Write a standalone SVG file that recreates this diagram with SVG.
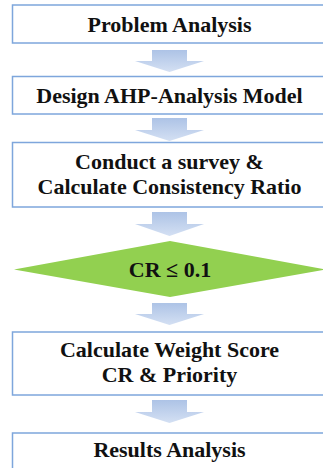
<svg xmlns="http://www.w3.org/2000/svg" width="323" height="468" viewBox="0 0 323 468">
<style>
.box{fill:#ffffff;stroke:#7ea6dc;stroke-width:1.5}
.t{font-family:'Liberation Serif','Times New Roman',Times,'DejaVu Serif',serif;font-weight:700;font-size:22px;fill:#111111;text-anchor:middle}
.arr{fill:url(#ag)}
</style>
<defs>
<linearGradient id="ag" x1="0" y1="0" x2="0" y2="1">
<stop offset="0" stop-color="#adc3e6"/>
<stop offset="1" stop-color="#d4e0f3"/>
</linearGradient>
</defs>
<g id="connectors">
<path class="arr" d="M152,50 H187 V61 H204 L169.5,72 L135,61 H152 Z"/>
<path class="arr" d="M152,118 H187 V130 H204 L169.5,141 L135,130 H152 Z"/>
<path class="arr" d="M152,212 H187 V224 H204 L169.5,236 L135,224 H152 Z"/>
<path class="arr" d="M152,303 H187 V314 H204 L169.5,325 L135,314 H152 Z"/>
<path class="arr" d="M152,400 H187 V412 H204 L169.5,423 L135,412 H152 Z"/>
</g>
<g id="n1">
<rect class="box" x="12.5" y="5" width="314" height="38"/>
<text class="t" x="169.5" y="31.5">Problem Analysis</text>
</g>
<g id="n2">
<rect class="box" x="12.5" y="76.5" width="314" height="37.5"/>
<text class="t" x="169.5" y="102.5">Design AHP-Analysis Model</text>
</g>
<g id="n3">
<rect class="box" x="12.5" y="142.5" width="314" height="64.5"/>
<text class="t" x="169.5" y="168.5">Conduct a survey &amp;</text>
<text class="t" x="169.5" y="194">Calculate Consistency Ratio</text>
</g>
<g id="n4">
<polygon points="14,269.5 170,241 326,269.5 170,297" fill="#92d050"/>
<text class="t" x="170" y="277">CR ≤ 0.1</text>
</g>
<g id="n5">
<rect class="box" x="12.5" y="332" width="314" height="63"/>
<text class="t" x="169.5" y="356.5">Calculate Weight Score</text>
<text class="t" x="169.5" y="381.5">CR &amp; Priority</text>
</g>
<g id="n6">
<rect class="box" x="12.5" y="433" width="314" height="40"/>
<text class="t" x="169.5" y="456.5">Results Analysis</text>
</g>
</svg>
